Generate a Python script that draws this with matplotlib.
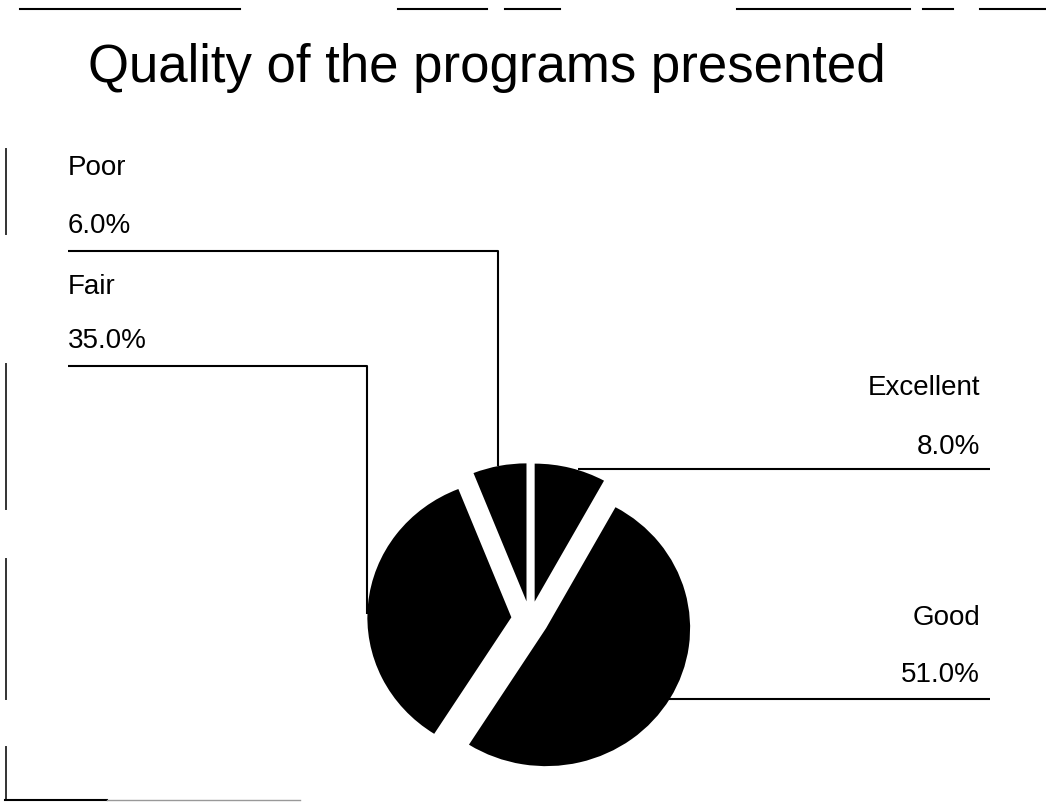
import matplotlib.pyplot as plt

plt.rcParams['font.family'] = ['Liberation Sans', 'DejaVu Sans']

# data
labels = ['Excellent', 'Good', 'Fair', 'Poor']
shares = [8.0, 51.0, 35.0, 6.0]
title = 'Quality of the programs presented'

W, H = 1046, 803
fig = plt.figure(figsize=(W / 100, H / 100), dpi=100)
fig.patch.set_facecolor('white')

# background axes in pixel coords (y down) for labels / leader lines
bg = fig.add_axes([0, 0, 1, 1])
bg.set_xlim(0, W)
bg.set_ylim(H, 0)
bg.axis('off')

# pie axes, slightly squashed vertically like the scan
cx, cy = 530, 620
rx, ry = 144, 138
half = 180
pie_ax = fig.add_axes([(cx - half) / W, (H - cy - half) / H, 2 * half / W, 2 * half / H])
wedges, _ = pie_ax.pie(shares, startangle=90, counterclock=False,
                       colors=['black'] * len(shares), explode=[0.13] * len(shares),
                       wedgeprops=dict(linewidth=0))
pie_ax.set_aspect('auto')
pie_ax.set_xlim(-half / rx, half / rx)
pie_ax.set_ylim(-half / ry, half / ry)
pie_ax.axis('off')

bg.text(88, 68, title, fontsize=38, ha='left', va='center')

# label layout: (name row y, pct row y, x, align, leader path)
layout = {
    'Poor': (168, 226, 68, 'left', [(68, 252), (498, 252), (498, 467)]),
    'Fair': (287, 341, 68, 'left', [(68, 367), (367, 367), (367, 615)]),
    'Excellent': (388, 447, 980, 'right', [(578, 470), (990, 470)]),
    'Good': (618, 675, 980, 'right', [(669, 700), (990, 700)]),
}
for name, val in zip(labels, shares):
    y1, y2, x, ha, path = layout[name]
    bg.text(x, y1, name, fontsize=20, ha=ha, va='center')
    bg.text(x, y2, f'{val:.1f}%', fontsize=20, ha=ha, va='center')
    xs, ys = zip(*path)
    bg.plot(xs, ys, color='black', lw=1.5, solid_capstyle='butt')

# scanned page border fragments
for x0, x1 in [(20, 240), (398, 487), (505, 560), (737, 910), (923, 953), (980, 1046)]:
    bg.plot([x0, x1], [10, 10], color='black', lw=1.5)
for y0, y1 in [(150, 235), (365, 510), (560, 700), (748, 800)]:
    bg.plot([6, 6], [y0, y1], color='#333333', lw=1.4)
bg.plot([5, 107], [801, 801], color='black', lw=1.5)
bg.plot([107, 300], [801, 801], color='#999999', lw=1)

fig.savefig('out.png', dpi=100, facecolor='white')
